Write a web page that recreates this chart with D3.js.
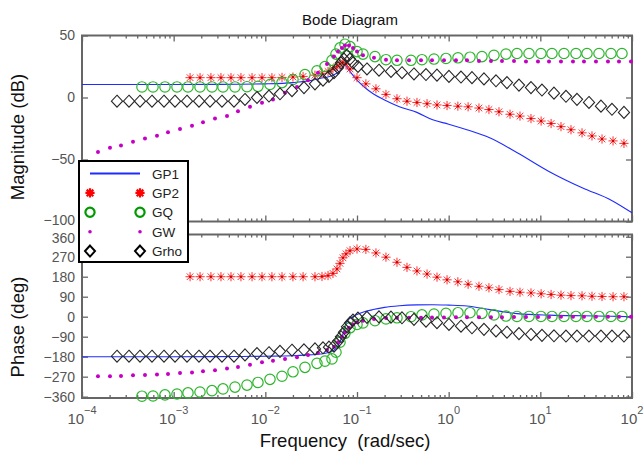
<!DOCTYPE html>
<html><head><meta charset="utf-8">
<script src="https://cdn.jsdelivr.net/npm/d3@7"></script>
<style>
body{margin:0;background:#fff}
svg{display:block;font-family:"Liberation Sans",Arial,Helvetica,sans-serif}
</style></head><body>
<svg id="c" width="644" height="455"></svg>
<script>
// ---------- DATA ----------
const seriesNames = ["GP1","GP2","GQ","GW","Grho"];
const magTicks = [50,0,-50,-100];
const phaseTicks = [360,270,180,90,0,-90,-180,-270,-360];
const freqExponents = [-4,-3,-2,-1,0,1,2];

const freqGP1 = [0.0001,0.001,0.005,0.01,0.02,0.03,0.04,0.05,0.06,0.065,0.07,0.074,0.08,0.09,0.1,0.12,0.15,0.2,0.29,0.45,0.67,1,1.58,2.8,5.6,12.7,29,60,100];
const magGP1 = [10.5,10.5,10.7,11,12,13.5,15.5,17,19.5,21.5,24,26,23,18,14,8.5,3,-2,-7.5,-12,-18,-21.5,-26,-32.5,-44.5,-60,-73,-83,-93];
const phaseGP1 = [-180,-180,-179,-178,-176,-172,-168,-160,-140,-115,-80,-45,-15,0,10,22,32,42,49,53,54,52,48,32,14,7,4,2,0];

const freqGP2 = [0.00151,0.00194,0.00255,0.00328,0.00422,0.00542,0.00716,0.0092,0.0118,0.0152,0.0200,0.0258,0.0348,0.0415,0.0483,0.0547,0.0605,0.0652,0.0703,0.0759,0.0840,0.100,0.125,0.161,0.207,0.273,0.351,0.451,0.581,0.746,0.960,1.26,1.63,2.14,2.75,3.54,4.67,6.00,7.91,10.2,13.1,16.8,21.6,28.5,36.6,47.1,62.1,81.7];
const magGP2 = [16,16,16,16,16,16,16,16,16,16.2,16.5,17,18,19.5,21,23,25,27,28.5,27,23,16,11,7,2.5,-1,-3,-4,-5,-6,-6.5,-7,-7.5,-8.5,-9.7,-11.5,-13.5,-15,-17,-19,-21,-23.5,-26,-28.5,-31,-33.5,-35,-37];
const phaseGP2 = [180,180,180,180,180,180,180,180,180,180,180,180,180,181,185,195,215,240,265,283,297,305,303,287,268,245,222,206,192,178,166,157,146,137,130,122,114,110,107,103,100,97,95,94,92,91,90,90];

const freqGQ = [0.000451,0.000595,0.000804,0.001087,0.001433,0.001937,0.002618,0.003452,0.004667,0.006308,0.00831,0.01124,0.0152,0.02003,0.02707,0.0366,0.04475,0.05335,0.05899,0.06524,0.07396,0.08383,0.1,0.1162,0.1571,0.2071,0.273,0.3881,0.5116,0.6915,0.9348,1.264,1.708,2.309,3.121,4.22,5.564,7.521,10.16,13.4,18.11,24.48,32.28,43.63,58.98,77.75];
const magGQ = [8.5,8.5,8.5,8.5,8.5,8.5,8.5,8.5,8.5,8.7,9,10.5,12,14.5,18.5,21.5,25,30,35,40,43,41,37,35,33,30.5,30,30,30.5,31,31.5,32,32.5,33,34,35,35.5,35.5,35.5,35.5,35.5,35.5,35.5,35.5,35.5,35.5];
const phaseGQ = [-358,-357,-352,-348,-343,-339,-333,-325,-317,-308,-296,-282,-268,-248,-228,-210,-200,-190,-160,-115,-75,-50,-35,-28,-18,-10,-5,0,8,12,15,18,18,15,8,3,1,1,1,1,1,1,1,1,1,1];

const freqGW = [0.0001494,0.000202,0.0002663,0.00036,0.0004866,0.0006578,0.0008673,0.001173,0.001585,0.002089,0.002824,0.003818,0.005031,0.006803,0.009197,0.01212,0.01639,0.02215,0.0292,0.03753,0.04706,0.0561,0.06204,0.06861,0.07396,0.08177,0.09044,0.1,0.1162,0.1532,0.2072,0.2731,0.3692,0.4991,0.658,0.8893,1.202,1.585,2.142,2.895,3.817,5.16,6.975,9.428,12.43,16.8,22.71,29.94,40.47,54.7,72.11,97.48];
const magGW = [-44,-40.5,-38.7,-35.7,-33,-30.8,-28,-25.4,-22.7,-20,-17,-15,-11,-7.5,-4.3,-1.6,3.8,8.5,14,20,27,33,37,40,42,42,40,37,34,32,30.5,30,30,30,30,30,30,30,29.5,29.5,29.5,29.5,29,29,29,29,29,29,29,29,29,29];
const phaseGW = [-268,-268,-267,-264,-262,-260,-258,-254,-251,-246,-241,-233,-226,-216,-205,-198,-190,-182,-172,-162,-150,-135,-115,-90,-70,-50,-35,-25,-18,-10,-6,-5,-5,-5,-4,-4,-3,-3,-2,-2,-2,-1,-1,-1,-1,0,0,0,0,0,0,0];

const freqGrho = [0.0002409,0.0003256,0.0004292,0.0005802,0.0007843,0.001034,0.001398,0.001889,0.00249,0.003366,0.00455,0.005999,0.00811,0.01096,0.01445,0.01953,0.0264,0.03481,0.04256,0.04948,0.0561,0.06204,0.06688,0.07211,0.07776,0.08383,0.09044,0.1025,0.1285,0.1738,0.2349,0.3096,0.4184,0.5657,0.7456,1.008,1.363,1.796,2.428,3.283,4.327,5.85,7.907,10.42,14.09,19.05,25.11,33.94,45.87,60.47,81.74];
const magGrho = [-3,-3,-3,-3,-3,-3,-3,-3,-3,-3,-3,-1.6,0,1.2,3,5.5,8,11,14,17,20,24,28,31,34,31,28,25,23,22,21,20,19,18.5,18,17,16.5,16,15,13.5,12,10,8,6,3.5,1,-1.5,-4,-7,-9.5,-12];
const phaseGrho = [-178,-178,-178,-178,-178,-178,-178,-178,-178,-178,-178,-172,-166,-162,-156,-151,-149,-145,-140,-137,-133,-111,-90,-70,-45,-28,-15,-6,-3,-1,-2,-5,-12,-20,-27,-35,-43,-50,-57,-64,-70,-76,-80,-84,-86,-87,-87,-87,-87,-87,-87];

// ---------- LAYOUT ----------
const svg = d3.select("#c");
const X0 = 82, X1 = 632;
const x = d3.scaleLog().domain([1e-4, 100]).range([X0, X1]);
const yM = d3.scaleLinear().domain([-100, 50]).range([221.5, 35.5]);
const yP = d3.scaleLinear().domain([-366, 370]).range([398, 234.5]);
const axisCol = "#666", labCol = "#555";

const majors = freqExponents.map(e => Math.pow(10, e));
const minors = [];
for (let e = -4; e < 2; e++) for (let k = 2; k <= 9; k++) minors.push(k * Math.pow(10, e));

function frame(y, ticks, showX, edgeShift) {
  const [b, t] = y.range();
  const g = svg.append("g");
  const style = sel => { sel.select(".domain").remove(); sel.selectAll("line").attr("stroke", axisCol).attr("stroke-width", 1.3); };
  g.append("g").attr("transform", `translate(0,${b})`).call(d3.axisBottom(x).tickValues(majors).tickSize(-6).tickFormat("")).call(style);
  g.append("g").attr("transform", `translate(0,${b})`).call(d3.axisBottom(x).tickValues(minors).tickSize(-3).tickFormat("")).call(style);
  g.append("g").attr("transform", `translate(0,${t})`).call(d3.axisTop(x).tickValues(majors).tickSize(-6).tickFormat("")).call(style);
  g.append("g").attr("transform", `translate(0,${t})`).call(d3.axisTop(x).tickValues(minors).tickSize(-3).tickFormat("")).call(style);
  const yl = g.append("g").attr("transform", `translate(${X0},0)`)
    .call(d3.axisLeft(y).tickValues(ticks).tickSize(-6).tickPadding(7)).call(style);
  yl.selectAll("text").attr("fill", labCol).attr("font-size", 14).attr("font-family", null);
  yl.selectAll(".tick").filter(d => d === edgeShift.v).select("text").attr("y", edgeShift.dy);
  g.append("g").attr("transform", `translate(${X1},0)`)
    .call(d3.axisRight(y).tickValues(ticks).tickSize(-6).tickFormat("")).call(style);
  g.append("rect").attr("x", X0).attr("y", t).attr("width", X1 - X0).attr("height", b - t)
    .attr("fill", "none").attr("stroke", axisCol).attr("stroke-width", 2);
  if (showX) {
    freqExponents.forEach(e => {
      const tx = g.append("text").attr("x", x(Math.pow(10, e))).attr("y", 423.5)
        .attr("text-anchor", "middle").attr("fill", labCol).attr("font-size", 15);
      tx.append("tspan").text("10");
      tx.append("tspan").attr("dy", -10).attr("font-size", 11).text(e < 0 ? "\u2212" + (-e) : String(e));
    });
  }
}
frame(yM, magTicks, false, {v: -100, dy: -1.5});
frame(yP, phaseTicks, true, {v: 360, dy: 1.5});

// ---------- MARKERS ----------
const starPath = "M-4.6,0H4.6M0,-4.6V4.6M-3.3,-3.3L3.3,3.3M-3.3,3.3L3.3,-3.3";
const diamondPath = "M0,-6L5.6,0L0,6L-5.6,0Z";
const pts = (f, v) => f.map((d, i) => [d, v[i]]);

function drawSeries(y, vGP1, vGP2, vGQ, vGW, vGrho) {
  const g = svg.append("g");
  g.append("path").datum(pts(freqGP1, vGP1))
    .attr("d", d3.line().x(d => x(d[0])).y(d => y(d[1])).curve(d3.curveMonotoneX))
    .attr("fill", "none").attr("stroke", "#1f2bff").attr("stroke-width", 1.1);
  const s = g.append("g").selectAll("g").data(pts(freqGP2, vGP2)).join("g")
    .attr("transform", d => `translate(${x(d[0])},${y(d[1])})`);
  s.append("path").attr("d", starPath).attr("stroke", "#ff3030").attr("stroke-width", 1).attr("fill", "none");
  s.append("circle").attr("r", 1.2).attr("fill", "#d00000");
  g.append("g").selectAll("circle").data(pts(freqGQ, vGQ)).join("circle")
    .attr("cx", d => x(d[0])).attr("cy", d => y(d[1])).attr("r", 5.2)
    .attr("fill", "none").attr("stroke", "#2cb52c").attr("stroke-width", 1.2);
  g.append("g").selectAll("circle").data(pts(freqGW, vGW)).join("circle")
    .attr("cx", d => x(d[0])).attr("cy", d => y(d[1])).attr("r", 2)
    .attr("fill", "#c400c4");
  g.append("g").selectAll("path").data(pts(freqGrho, vGrho)).join("path")
    .attr("transform", d => `translate(${x(d[0])},${y(d[1])})`)
    .attr("d", diamondPath).attr("fill", "none").attr("stroke", "#262626").attr("stroke-width", 1.1);
}
drawSeries(yM, magGP1, magGP2, magGQ, magGW, magGrho);
drawSeries(yP, phaseGP1, phaseGP2, phaseGQ, phaseGW, phaseGrho);

// ---------- TEXT ----------
svg.append("text").attr("x", 350).attr("y", 25).attr("text-anchor", "middle")
  .attr("font-size", 15).attr("fill", "#111").text("Bode Diagram");
svg.append("text").attr("x", 345).attr("y", 447).attr("text-anchor", "middle")
  .attr("font-size", 18.5).attr("fill", "#111").attr("xml:space", "preserve").text("Frequency  (rad/sec)");
svg.append("text").attr("transform", "translate(24,137) rotate(-90)").attr("text-anchor", "middle")
  .attr("font-size", 18.5).attr("fill", "#111").text("Magnitude (dB)");
svg.append("text").attr("transform", "translate(24,327) rotate(-90)").attr("text-anchor", "middle")
  .attr("font-size", 18.5).attr("fill", "#111").text("Phase (deg)");

// ---------- LEGEND ----------
const lg = svg.append("g");
lg.append("rect").attr("x", 79).attr("y", 161).attr("width", 109).attr("height", 101)
  .attr("fill", "#fff").attr("stroke", "#000").attr("stroke-width", 2);
const rowY = i => 173.5 + i * 19.4;
seriesNames.forEach((name, i) => {
  const yy = rowY(i);
  const row = lg.append("g");
  if (i === 0) {
    row.append("line").attr("x1", 90).attr("x2", 140).attr("y1", yy).attr("y2", yy)
      .attr("stroke", "#1f2bff").attr("stroke-width", 2);
  } else {
    [90, 140].forEach(cx => {
      const m = row.append("g").attr("transform", `translate(${cx},${yy})`);
      if (i === 1) m.append("path").attr("d", starPath).attr("stroke", "#ff0000").attr("stroke-width", 2.2).attr("fill", "none");
      if (i === 2) m.append("circle").attr("r", 4.6).attr("fill", "none").attr("stroke", "#009a00").attr("stroke-width", 2.2);
      if (i === 3) m.append("circle").attr("r", 1.8).attr("fill", "#c400c4");
      if (i === 4) m.append("path").attr("d", "M0,-5.5L5,0L0,5.5L-5,0Z").attr("fill", "none").attr("stroke", "#000").attr("stroke-width", 2);
    });
  }
  row.append("text").attr("x", 152).attr("y", yy + 5).attr("font-size", 13.5).attr("fill", "#222").text(name);
});
</script>
</body></html>
